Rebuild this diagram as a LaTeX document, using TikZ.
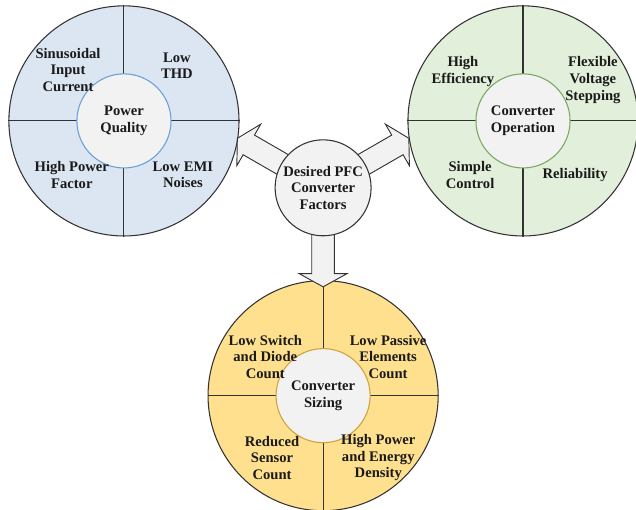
\documentclass[tikz,border=0pt]{standalone}
\usepackage{fontspec}
\setmainfont{Liberation Serif}
\usepackage{xcolor}
\usepackage{tikz}
\usetikzlibrary{positioning}
\definecolor{pqfill}{HTML}{DCE6F2}
\definecolor{pqedge}{HTML}{6A9FD8}
\definecolor{opfill}{HTML}{E2EFDA}
\definecolor{opedge}{HTML}{7BA765}
\definecolor{szfill}{HTML}{FFE08F}
\definecolor{szedge}{HTML}{CFA23A}
\definecolor{hubfill}{HTML}{F2F2F2}
\definecolor{pfcline}{HTML}{333333}
\definecolor{pfctext}{HTML}{1A1A1A}
\tikzset{
  ring/.style={
    circle,
    draw=pfcline,
    line width=0.8pt,
    minimum size=6.09cm,
    inner sep=0pt
  },
  core/.style={
    circle,
    fill=hubfill,
    line width=0.8pt,
    minimum size=2.49cm,
    inner sep=0pt,
    align=center,
    text=pfctext,
    font=\bfseries\fontsize{11}{12.5}\selectfont
  },
  hubcore/.style={core, draw=pfcline, minimum size=2.54cm},
  item/.style={
    align=center,
    inner sep=0pt,
    text=pfctext,
    font=\bfseries\fontsize{11}{12.5}\selectfont
  },
  divider/.style={draw=pfcline, line width=0.8pt},
  bigarrow/.style={draw=pfcline, fill=hubfill, line width=0.7pt, line join=miter}
}
\newcommand{\pfcarrow}[1]{%
  \begin{scope}[shift={(hub.center)}, rotate=#1]
    \draw[bigarrow] (0,-0.30) -- (2.27,-0.30) -- (2.27,-0.635) -- (2.62,0)
      -- (2.27,0.635) -- (2.27,0.30) -- (0,0.30) -- cycle;
  \end{scope}}

\begin{document}
\begin{tikzpicture}
\useasboundingbox (0,0) rectangle (16.83,13.49);
% outer rings
\node[ring, fill=pqfill] (pq) at (3.28,10.29) {};
\node[ring, fill=opfill] (op) at (13.84,10.29) {};
\node[ring, fill=szfill] (sz) at (8.55,3.02) {};
\foreach \r in {pq,op,sz} {
  \draw[divider] (\r.north) -- (\r.south);
  \draw[divider] (\r.west) -- (\r.east);
}
% inner circles
\node[core, draw=pqedge] (pqcore) at (pq.center) {Power\\Quality};
\node[core, draw=opedge] (opcore) at (op.center) {Converter\\Operation};
\node[core, draw=szedge] (szcore) at (sz.center) {Converter\\Sizing};
% quadrant labels
\node[item] (pqa) at ([shift={(-1.48,1.35)}]pq.center) {Sinusoidal\\Input\\Current};
\node[item] (pqb) at ([shift={(1.40,1.46)}]pq.center) {Low\\THD};
\node[item] (pqc) at ([shift={(-1.38,-1.43)}]pq.center) {High Power\\Factor};
\node[item] (pqd) at ([shift={(1.56,-1.43)}]pq.center) {Low EMI\\Noises};
\node[item] (opa) at ([shift={(-1.59,1.30)}]op.center) {High\\Efficiency};
\node[item] (opb) at ([shift={(1.85,1.08)}]op.center) {Flexible\\Voltage\\Stepping};
\node[item] (opc) at ([shift={(-1.40,-1.43)}]op.center) {Simple\\Control};
\node[item] (opd) at ([shift={(1.38,-1.43)}]op.center) {Reliability};
\node[item] (sza) at ([shift={(-1.53,1.03)}]sz.center) {Low Switch\\and Diode\\Count};
\node[item] (szb) at ([shift={(1.72,1.03)}]sz.center) {Low Passive\\Elements\\Count};
\node[item] (szc) at ([shift={(-1.35,-1.64)}]sz.center) {Reduced\\Sensor\\Count};
\node[item] (szd) at ([shift={(1.46,-1.64)}]sz.center) {High Power\\and Energy\\Density};
% hub and block arrows
\coordinate (hub) at (8.55,8.52);
\pfcarrow{150}
\pfcarrow{30}
\pfcarrow{-90}
\node[hubcore] (factors) at (hub) {Desired PFC\\Converter\\Factors};
\end{tikzpicture}
\end{document}
